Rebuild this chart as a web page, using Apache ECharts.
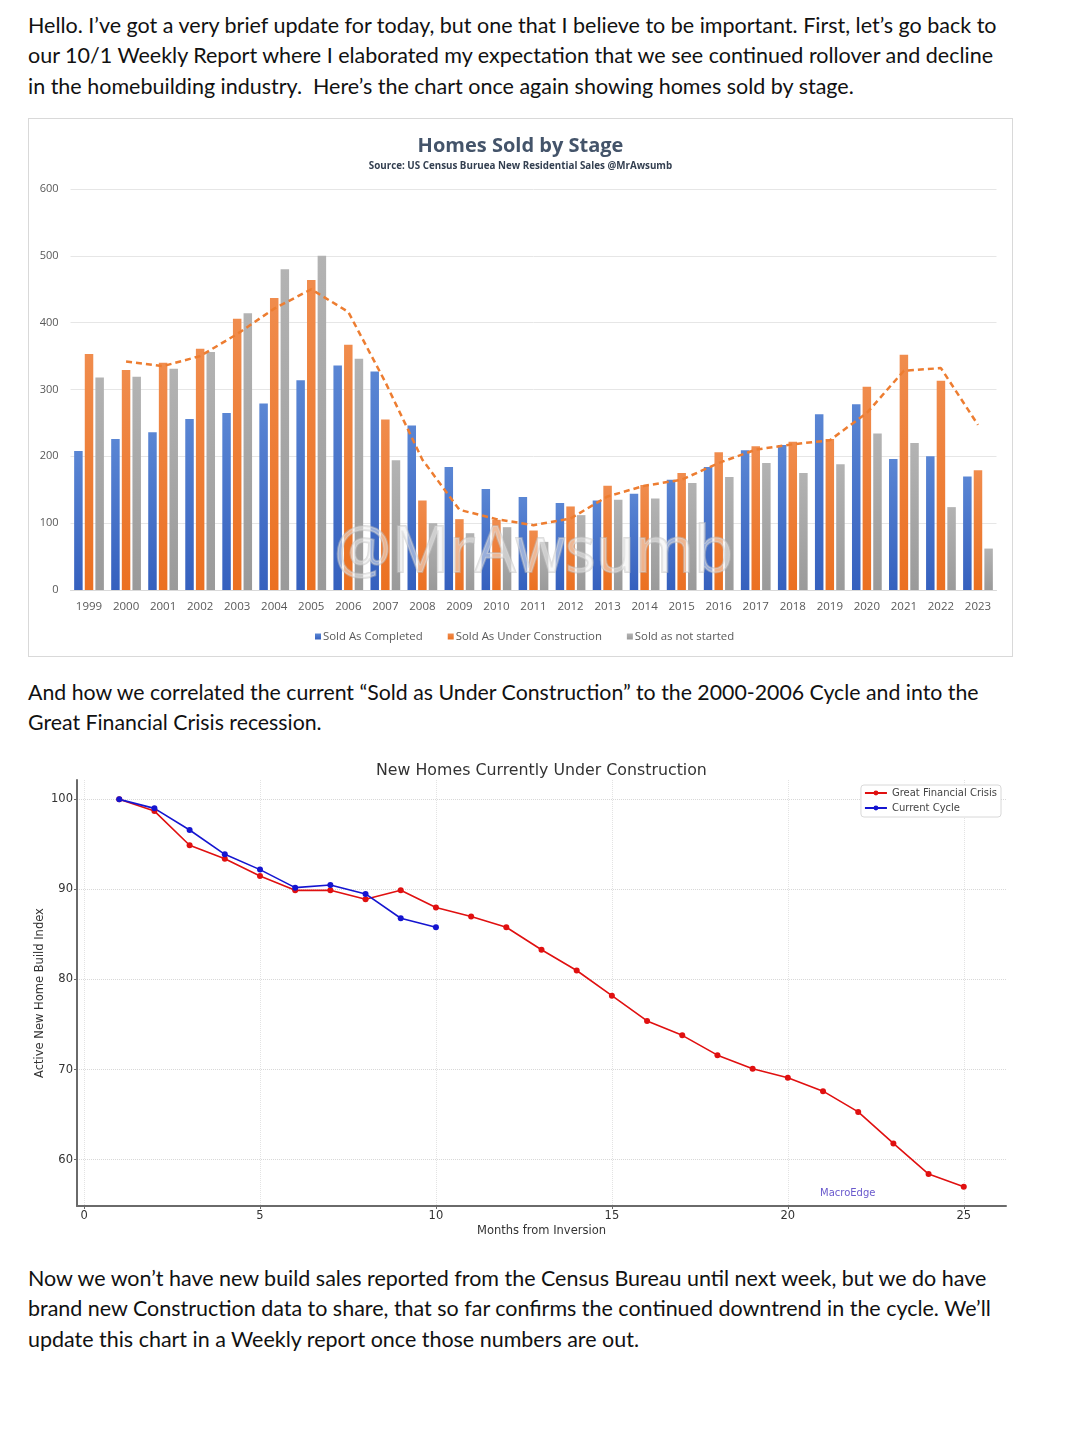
<!DOCTYPE html>
<html>
<head>
<meta charset="utf-8">
<script src="https://cdn.jsdelivr.net/npm/echarts@6/dist/echarts.min.js"></script>
<style>
  html, body { margin: 0; padding: 0; background: #fff; }
  body { width: 1088px; height: 1442px; position: relative; overflow: hidden; }
  .para { position: absolute; left: 28px; font-family: Lato, "Open Sans", sans-serif; color: #111; line-height: 30.3px; white-space: nowrap; }
  .para span { display: block; }
  #c1 { position: absolute; left: 28px; top: 118px; width: 985px; height: 539px; border: 1px solid #d9d9d9; box-sizing: border-box; }
  #c2 { position: absolute; left: 0; top: 750px; width: 1088px; height: 500px; }
</style>
</head>
<body>
<div class="para" id="p1" data-w="969" style="top:10px">
  <span>Hello. I’ve got a very brief update for today, but one that I believe to be important. First, let’s go back to</span>
  <span>our 10/1 Weekly Report where I elaborated my expectation that we see continued rollover and decline</span>
  <span>in the homebuilding industry.&nbsp; Here’s the chart once again showing homes sold by stage.</span>
</div>
<div id="c1"></div>
<div class="para" id="p2" data-w="951" style="top:677px">
  <span>And how we correlated the current “Sold as Under Construction” to the 2000-2006 Cycle and into the</span>
  <span>Great Financial Crisis recession.</span>
</div>
<div id="c2"></div>
<div class="para" id="p3" data-w="959" style="top:1263px">
  <span>Now we won’t have new build sales reported from the Census Bureau until next week, but we do have</span>
  <span>brand new Construction data to share, that so far confirms the continued downtrend in the cycle. We’ll</span>
  <span>update this chart in a Weekly report once those numbers are out.</span>
</div>
<script>
// ---------- Data: Homes Sold by Stage ----------
const years = ['1999','2000','2001','2002','2003','2004','2005','2006','2007','2008','2009','2010','2011','2012','2013','2014','2015','2016','2017','2018','2019','2020','2021','2022','2023'];
const soldCompleted = [208,226,236,256,265,279,314,336,327,246,184,151,139,130,134,144,165,184,209,217,263,278,196,200,170];
const soldUnderConstruction = [353,329,340,361,406,437,464,367,255,134,106,105,89,125,156,157,175,206,215,222,226,304,352,313,179];
const soldNotStarted = [318,319,331,356,414,480,500,346,194,100,85,94,72,112,135,137,160,169,190,175,188,234,220,124,62];
const underConstructionTrend = [null,342,335,350,383,421,450,416,311,195,120,106,97,107,140,156,165,190,210,218,224,265,328,332,247];
const barYTicks = [0,100,200,300,400,500,600];

// ---------- Data: New Homes Currently Under Construction ----------
const gfcMonths = [1,2,3,4,5,6,7,8,9,10,11,12,13,14,15,16,17,18,19,20,21,22,23,24,25];
const gfcIndex = [100,98.7,94.9,93.4,91.5,89.9,89.9,88.9,89.9,88.0,87.0,85.8,83.3,81.0,78.2,75.4,73.8,71.6,70.1,69.1,67.6,65.3,61.8,58.4,57.0];
const curMonths = [1,2,3,4,5,6,7,8,9,10];
const curIndex = [100,99.0,96.6,93.9,92.2,90.2,90.5,89.5,86.8,85.8];
const lineXTicks = [0,5,10,15,20,25];
const lineYTicks = [60,70,80,90,100];

// fit paragraph font sizes to the reference widths
document.querySelectorAll('.para').forEach(p => {
  p.style.fontSize = '20px';
  const first = p.querySelector('span');
  const r = document.createRange(); r.selectNodeContents(first);
  const w = r.getBoundingClientRect().width;
  const target = +p.dataset.w;
  p.style.fontSize = (20 * target / w).toFixed(2) + 'px';
});

function grad(top, bottom) {
  return new echarts.graphic.LinearGradient(0, 0, 0, 1, [{offset: 0, color: top}, {offset: 1, color: bottom}]);
}

const c1 = echarts.init(document.getElementById('c1'), null, {renderer: 'canvas'});
const f1 = '"Open Sans", "Noto Sans", sans-serif';
c1.setOption({
  animation: false,
  textStyle: {fontFamily: f1},
  title: [
    {text: 'Homes Sold by Stage', left: 'center', top: 12, textStyle: {fontSize: 20, fontWeight: 'bold', color: '#44546a', fontFamily: f1}},
    {text: 'Source: US Census Buruea New Residential Sales @MrAwsumb', left: 'center', top: 37, textStyle: {fontSize: 9.8, fontWeight: 'bold', color: '#333f50', fontFamily: f1}}
  ],
  legend: {
    data: ['Sold As Completed', 'Sold As Under Construction', 'Sold as not started'],
    left: 281, top: 507, icon: 'rect', itemWidth: 6, itemHeight: 6, itemGap: 25,
    textStyle: {fontSize: 11.4, color: '#595959', padding: [0,0,0,-3]}
  },
  grid: {left: 41.5, right: 15.5, top: 70, bottom: 66},
  xAxis: {
    type: 'category', data: years,
    axisLine: {lineStyle: {color: '#d9d9d9'}}, axisTick: {show: false},
    axisLabel: {fontSize: 11.5, color: '#595959', margin: 11}
  },
  yAxis: {
    type: 'value', min: barYTicks[0], max: barYTicks[barYTicks.length-1], interval: 100,
    axisLine: {show: false}, axisTick: {show: false},
    axisLabel: {fontSize: 11, color: '#595959', margin: 12},
    splitLine: {lineStyle: {color: '#e6e6e6', width: 1}}
  },
  series: [
    {name: 'Sold As Completed', type: 'bar', data: soldCompleted, barWidth: 8.5, barGap: '25%', barCategoryGap: '20%',
     itemStyle: {color: grad('#5a86d4', '#3560be')}},
    {name: 'Sold As Under Construction', type: 'bar', data: soldUnderConstruction, barWidth: 8.5, barGap: '25%',
     itemStyle: {color: grad('#f08c4d', '#eb7021')}},
    {name: 'Sold as not started', type: 'bar', data: soldNotStarted, barWidth: 8.5, barGap: '25%',
     itemStyle: {color: grad('#b3b3b3', '#9a9a9a')}},
    {name: 'Trend', type: 'line', data: underConstructionTrend, symbol: 'none', z: 5,
     lineStyle: {color: '#ed7d31', width: 2.5, type: [6, 4]}}
  ],
  graphic: [{
    type: 'text', left: 304, top: 402, z: 100, silent: true,
    style: {text: '@MrAwsumb', font: '64px "Open Sans", sans-serif', fill: 'rgba(240,240,240,0.5)', stroke: 'rgba(190,190,190,0.5)', lineWidth: 2}
  }]
});

const c2 = echarts.init(document.getElementById('c2'), null, {renderer: 'canvas'});
const f2 = '"DejaVu Sans", sans-serif';
c2.setOption({
  animation: false,
  textStyle: {fontFamily: f2},
  title: {text: 'New Homes Currently Under Construction', left: 371, top: 8,
          textStyle: {fontSize: 15.8, fontWeight: 'normal', color: '#333', fontFamily: f2}},
  legend: {
    orient: 'vertical', right: 87, top: 35, itemWidth: 22, itemHeight: 6, itemGap: 5,
    padding: [3, 4, 4, 3], borderColor: '#d8d8d8', borderWidth: 1, borderRadius: 3, backgroundColor: '#fff',
    textStyle: {fontSize: 10, color: '#444', fontFamily: f2}
  },
  grid: {left: 77, right: 82, top: 30, bottom: 44},
  xAxis: {
    type: 'value', min: -0.2, max: 26.2,
    name: 'Months from Inversion', nameLocation: 'middle', nameGap: 19, nameMoveOverlap: false,
    nameTextStyle: {fontSize: 11.5, color: '#333', fontFamily: f2},
    axisLine: {onZero: false, lineStyle: {color: '#6a6a6a', width: 2}},
    axisTick: {show: true, length: 3, customValues: lineXTicks, lineStyle: {color: '#6a6a6a'}},
    axisLabel: {customValues: lineXTicks, fontSize: 11.5, color: '#333', margin: 4, fontFamily: f2},
    splitLine: {show: true, customValues: lineXTicks, lineStyle: {color: '#e3e3e3', type: 'dotted', width: 1}}
  },
  yAxis: {
    type: 'value', min: 54.85, max: 102.15,
    name: 'Active New Home Build Index', nameLocation: 'middle', nameGap: 31, nameMoveOverlap: false,
    nameTextStyle: {fontSize: 11.5, color: '#333', fontFamily: f2},
    axisLine: {show: true, onZero: false, lineStyle: {color: '#6a6a6a', width: 2}},
    axisTick: {show: true, length: 3, customValues: lineYTicks, lineStyle: {color: '#6a6a6a'}},
    axisLabel: {customValues: lineYTicks, fontSize: 11.5, color: '#333', margin: 4, fontFamily: f2},
    splitLine: {show: true, customValues: lineYTicks, lineStyle: {color: '#d8d8d8', type: 'dotted', width: 1}}
  },
  series: [
    {name: 'Great Financial Crisis', type: 'line', data: gfcMonths.map((m, i) => [m, gfcIndex[i]]),
     symbol: 'circle', symbolSize: 6, color: '#e01010', lineStyle: {width: 1.6, color: '#e01010'}, itemStyle: {color: '#e01010'}},
    {name: 'Current Cycle', type: 'line', data: curMonths.map((m, i) => [m, curIndex[i]]),
     symbol: 'circle', symbolSize: 6, color: '#1515d0', lineStyle: {width: 1.6, color: '#1515d0'}, itemStyle: {color: '#1515d0'}}
  ],
  graphic: [{
    type: 'text', left: 820, top: 438, silent: true,
    style: {text: 'MacroEdge', font: '10px "DejaVu Sans", sans-serif', fill: '#6a5acd'}
  }]
});
</script>
</body>
</html>
